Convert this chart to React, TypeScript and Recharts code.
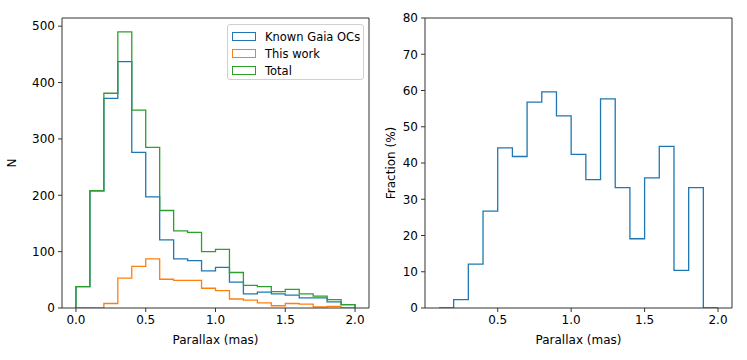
import { LineChart, Line, XAxis, YAxis, ReferenceLine } from 'recharts';

// histogram bin edges (mas)
const binEdges = [0.0, 0.1, 0.2, 0.3, 0.4, 0.5, 0.6, 0.7, 0.8, 0.9, 1.0, 1.1, 1.2, 1.3, 1.4, 1.5, 1.6, 1.7, 1.8, 1.9, 2.0];
const knownGaia = [38, 208, 372, 437, 276, 197, 121, 87, 84, 66, 72, 46, 25, 28, 25, 23, 18, 18, 11, 6];
const thisWork = [0, 0, 8, 53, 74, 87, 51, 49, 49, 35, 31, 16, 14, 9, 4, 8, 7, 2, 3, 0];
const total = [38, 208, 381, 490, 351, 285, 173, 137, 134, 100, 104, 63, 40, 38, 29, 33, 25, 21, 15, 6];

const fracEdges = [0.1, 0.2, 0.3, 0.4, 0.5, 0.6, 0.7, 0.8, 0.9, 1.0, 1.1, 1.2, 1.3, 1.4, 1.5, 1.6, 1.7, 1.8, 1.9, 2.0];
const fraction = [0, 2.3, 12.1, 26.7, 44.2, 41.8, 56.8, 59.6, 53.0, 42.4, 35.4, 57.7, 33.2, 19.1, 35.9, 44.6, 10.4, 33.2, 0];

const leftXTicks = [0, 0.5, 1.0, 1.5, 2.0];
const leftYTicks = [0, 100, 200, 300, 400, 500];
const rightXTicks = [0.5, 1.0, 1.5, 2.0];
const rightYTicks = [0, 10, 20, 30, 40, 50, 60, 70, 80];

const BLUE = '#1f77b4';
const ORANGE = '#ff7f0e';
const GREEN = '#2ca02c';
const AX = '#333';
const FONT = 'DejaVu Sans, sans-serif';
const FS = 12;
const LFS = 11.5;

const legendItems = [
  { name: 'Known Gaia OCs', color: BLUE },
  { name: 'This work', color: ORANGE },
  { name: 'Total', color: GREEN },
];

// outline of a step histogram, like matplotlib histtype="step"
function toSteps(edges: number[], values: number[]) {
  const pts = [{ x: edges[0], y: 0 }];
  values.forEach((v, i) => pts.push({ x: edges[i], y: v }));
  pts.push({ x: edges[edges.length - 1], y: values[values.length - 1] });
  pts.push({ x: edges[edges.length - 1], y: 0 });
  return pts;
}

const tickStyle = { fill: '#000', fontSize: FS, fontFamily: FONT };
const fmt = (v: number) => v.toFixed(1);

function yLabel(text: string, x: number) {
  return (props: any) => {
    const vb = props.viewBox;
    const cy = vb.y + vb.height / 2;
    return (
      <text x={x} y={cy} transform={`rotate(-90 ${x} ${cy})`} textAnchor="middle" dominantBaseline="central"
        fill="#000" fontSize={FS} fontFamily={FONT}>{text}</text>
    );
  };
}

function xLabel(props: any) {
  const vb = props.viewBox;
  const cx = vb.x + vb.width / 2;
  return (
    <text x={cx} y={340} textAnchor="middle" dominantBaseline="central" fill="#000" fontSize={FS} fontFamily={FONT}>
      Parallax (mas)
    </text>
  );
}

export default function App() {
  const leftXDomain = [-0.1, 2.1];
  const leftYDomain = [0, 514.5];
  const rightXDomain = [0.005, 2.095];
  const rightYDomain = [0, 80];
  const axisProps = { stroke: AX, tickSize: 4, tickMargin: 3 } as const;

  return (
    <div style={{ position: 'fixed', left: 0, top: 0, width: 747, height: 360, background: '#fff' }}>
      <div style={{ position: 'absolute', left: 0, top: 0 }}>
        <LineChart width={380} height={360} margin={{ top: 18, right: 11, left: 0, bottom: 0 }}>
          <XAxis dataKey="x" type="number" domain={leftXDomain} ticks={leftXTicks} tickFormatter={fmt}
            allowDataOverflow height={52} tick={tickStyle} {...axisProps} label={{ content: xLabel }} />
          <YAxis dataKey="y" type="number" domain={leftYDomain} ticks={leftYTicks} allowDataOverflow width={62}
            tick={tickStyle} {...axisProps} label={{ content: yLabel('N', 12) }} />
          <ReferenceLine y={leftYDomain[1]} stroke={AX} />
          <ReferenceLine x={leftXDomain[1]} stroke={AX} />
          <Line data={toSteps(binEdges, knownGaia)} dataKey="y" type="stepAfter" stroke={BLUE} strokeWidth={1.3}
            dot={false} isAnimationActive={false} />
          <Line data={toSteps(binEdges, thisWork)} dataKey="y" type="stepAfter" stroke={ORANGE} strokeWidth={1.3}
            dot={false} isAnimationActive={false} />
          <Line data={toSteps(binEdges, total)} dataKey="y" type="stepAfter" stroke={GREEN} strokeWidth={1.3}
            dot={false} isAnimationActive={false} />
        </LineChart>
        <div style={{
          position: 'absolute', left: 227, top: 24, width: 137, height: 56, boxSizing: 'border-box',
          border: '1px solid #d0d0d0', borderRadius: 3, background: 'rgba(255,255,255,0.8)',
          fontFamily: FONT, fontSize: LFS, color: '#000', padding: '3px 0 0 4px',
        }}>
          {legendItems.map((it) => (
            <div key={it.name} style={{ display: 'flex', alignItems: 'center', height: 17 }}>
              <span style={{ display: 'inline-block', width: 22, height: 7, border: `1.3px solid ${it.color}`, marginRight: 9 }} />
              <span>{it.name}</span>
            </div>
          ))}
        </div>
      </div>
      <div style={{ position: 'absolute', left: 380, top: 0 }}>
        <LineChart width={367} height={360} margin={{ top: 18, right: 15, left: 0, bottom: 0 }}>
          <XAxis dataKey="x" type="number" domain={rightXDomain} ticks={rightXTicks} tickFormatter={fmt}
            allowDataOverflow height={52} tick={tickStyle} {...axisProps} label={{ content: xLabel }} />
          <YAxis dataKey="y" type="number" domain={rightYDomain} ticks={rightYTicks} allowDataOverflow width={45}
            tick={tickStyle} {...axisProps} label={{ content: yLabel('Fraction (%)', 11) }} />
          <ReferenceLine y={rightYDomain[1]} stroke={AX} />
          <ReferenceLine x={rightXDomain[1]} stroke={AX} />
          <Line data={toSteps(fracEdges, fraction)} dataKey="y" type="stepAfter" stroke={BLUE} strokeWidth={1.3}
            dot={false} isAnimationActive={false} />
        </LineChart>
      </div>
    </div>
  );
}
